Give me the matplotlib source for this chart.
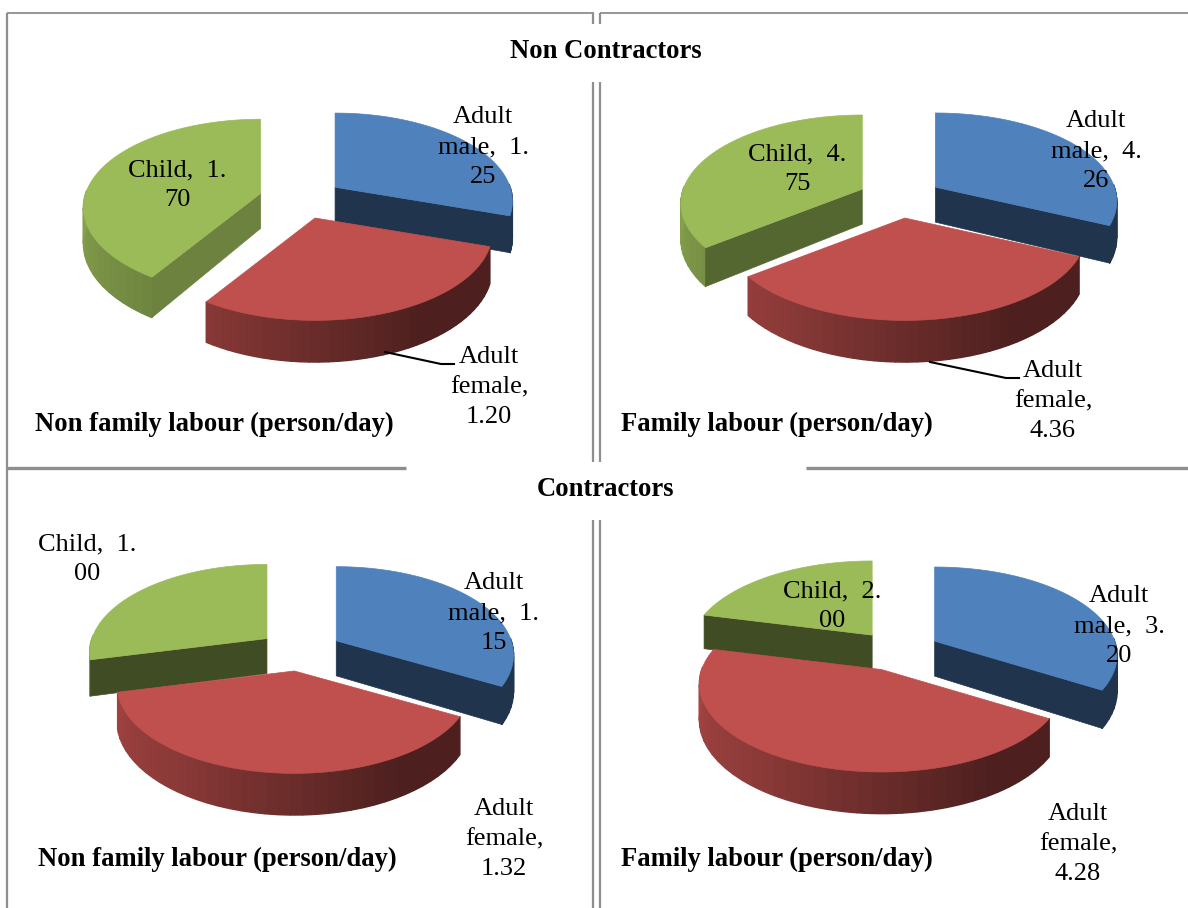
import numpy as np
import matplotlib
matplotlib.use("Agg")
import matplotlib.pyplot as plt
from matplotlib.collections import PolyCollection
from matplotlib.patches import Polygon
from matplotlib.colors import to_rgb

# Labour use in person/day
non_contractors_non_family = [1.25, 1.20, 1.70]
non_contractors_family = [4.26, 4.36, 4.75]
contractors_non_family = [1.15, 1.32, 1.00]
contractors_family = [3.20, 4.28, 2.00]

slice_colors = ["#4F81BD", "#C0504D", "#9BBB59"]
group_titles = ["Non Contractors", "Contractors"]
panel_titles = ["Non family labour (person/day)", "Family labour (person/day)"]

# Layout of the four pies, in figure pixels
panels = [
    dict(values=non_contractors_non_family, centre=(301, 199), rx=175,
         male=(483, 147), female=(489, 387), child=(177, 185), title=(214, 423), title_idx=0,
         leader=[(385, 352), (441, 364), (454, 364)]),
    dict(values=non_contractors_family, centre=(900, 198), rx=179,
         male=(1096, 151), female=(1053, 401), child=(797, 169), title=(777, 423), title_idx=1,
         leader=[(930, 362), (1006, 378), (1019, 378)]),
    dict(values=contractors_non_family, centre=(300, 651), rx=175,
         male=(494, 613), female=(504, 839), child=(87, 559), title=(217, 858), title_idx=0,
         leader=None),
    dict(values=contractors_family, centre=(898, 651), rx=180,
         male=(1119, 626), female=(1078, 844), child=(832, 606), title=(777, 858), title_idx=1,
         leader=None),
]

RY = 86.0
PERSPECTIVE = 0.16
DEPTH = 35.0
EXPLODE = 42.0
EXPLODE_TILT = 0.48
FONT = "Liberation Serif"
FRAME = "#8E8E8E"


def scale_at(y):
    return 1.0 / (1.0 - PERSPECTIVE * y)


def rim_point(apex, theta, rx):
    """Screen position of the rim at a clockwise angle from twelve o'clock."""
    x, y = np.sin(theta), -np.cos(theta)
    s = scale_at(y)
    return apex[0] + rx * x * s, apex[1] + RY * y * s, DEPTH * s


def rim_shade(deg):
    return np.interp(deg, [0, 150, 215, 275, 360], [0.40, 0.40, 0.72, 0.88, 0.92])


def cut_shade(normal_deg):
    return np.interp(normal_deg, [122, 142, 166, 300], [0.70, 0.55, 0.41, 0.40])


def shaded(color, k):
    return tuple(c * k for c in to_rgb(color))


def draw_slice(ax, centre, start, end, color, rx):
    mid = (start + end) / 2
    apex = (centre[0] + EXPLODE * np.sin(mid),
            centre[1] - EXPLODE * EXPLODE_TILT * np.cos(mid))
    thetas = np.linspace(start, end, 240)
    pts = np.array([rim_point(apex, t, rx) for t in thetas])

    # outer wall: the near half only, in shaded bands along the rim
    near = np.degrees(thetas)
    keep = np.where((near >= 88) & (near <= 272))[0]
    if len(keep) > 1:
        step = 6
        idxs = list(keep[::step])
        if idxs[-1] != keep[-1]:
            idxs.append(keep[-1])
        quads, cols = [], []
        for i0, i1 in zip(idxs[:-1], idxs[1:]):
            seg = pts[i0:i1 + 1]
            top = [(p[0], p[1]) for p in seg]
            bottom = [(p[0], p[1] + p[2]) for p in seg[::-1]]
            quads.append(top + bottom)
            cols.append(shaded(color, rim_shade((near[i0] + near[i1]) / 2)))
        ax.add_collection(PolyCollection(quads, facecolors=cols, edgecolors=cols, linewidths=1.0))

    # radial cut faces that turn towards the viewer
    for idx, normal in ((0, start - np.pi / 2), (-1, end + np.pi / 2)):
        if -np.cos(normal) <= 0.01:
            continue
        p = pts[idx]
        face = shaded(color, cut_shade(np.degrees(normal)))
        ax.add_patch(Polygon([(apex[0], apex[1]), (p[0], p[1]), (p[0], p[1] + p[2]),
                              (apex[0], apex[1] + DEPTH)],
                             closed=True, facecolor=face, edgecolor=face, linewidth=0.5))

    # top surface
    outline = [(apex[0], apex[1])] + [(p[0], p[1]) for p in pts]
    ax.add_patch(Polygon(outline, closed=True, facecolor=color, edgecolor=color, linewidth=0.5))


def split_value(v):
    whole, frac = f"{v:.2f}".split(".")
    return whole + ".", frac


fig = plt.figure(figsize=(11.88, 9.08), dpi=100)
ax = fig.add_axes([0, 0, 1, 1])
ax.set_xlim(0, 1188)
ax.set_ylim(908, 0)
ax.axis("off")

# panel frame
frame_lines = [
    ((7, 7), (13, 908), 1.6),
    ((7, 594), (13, 13), 1.3),
    ((600, 1188), (13, 13), 1.3),
    ((593, 593), (13, 24), 1.6),
    ((600, 600), (13, 24), 1.6),
    ((593, 593), (82, 462), 1.6),
    ((600, 600), (82, 462), 1.6),
    ((593, 593), (520, 908), 1.6),
    ((600, 600), (520, 908), 1.6),
    ((7, 406), (468, 468), 2.4),
    ((806, 1188), (468, 468), 2.4),
]
for xs, ys, lw in frame_lines:
    ax.plot(xs, ys, color=FRAME, lw=lw, solid_capstyle="butt")

for panel in panels:
    vals = np.array(panel["values"], dtype=float)
    edges = np.concatenate([[0], np.cumsum(vals) / vals.sum() * 2 * np.pi])

    if panel["leader"]:
        lx, ly = zip(*panel["leader"])
        ax.plot(lx, ly, color="black", lw=1.5, solid_joinstyle="round")

    # back slices first: child, then male, then female in front
    for i in (2, 0, 1):
        draw_slice(ax, panel["centre"], edges[i], edges[i + 1], slice_colors[i], panel["rx"])

    mw, mf = split_value(vals[0])
    cw, cf = split_value(vals[2])
    labels = {
        "male": f"Adult\nmale,  {mw}\n{mf}",
        "female": f"Adult\nfemale,\n{vals[1]:.2f}",
        "child": f"Child,  {cw}\n{cf}",
    }
    for key, text in labels.items():
        x, y = panel[key]
        ax.text(x, y, text, family=FONT, fontsize=19, ha="center", va="center",
                linespacing=1.45, color="black")

    tx, ty = panel["title"]
    ax.text(tx, ty + 1, panel_titles[panel["title_idx"]], family=FONT, fontsize=19.2, fontweight="bold",
            ha="center", va="center", color="black")

ax.text(606, 52, group_titles[0], family=FONT, fontsize=19.2, fontweight="bold",
        ha="center", va="center", color="black")
ax.text(606, 490, group_titles[1], family=FONT, fontsize=19.2, fontweight="bold",
        ha="center", va="center", color="black")

fig.savefig("out.png", dpi=100, facecolor="white")
